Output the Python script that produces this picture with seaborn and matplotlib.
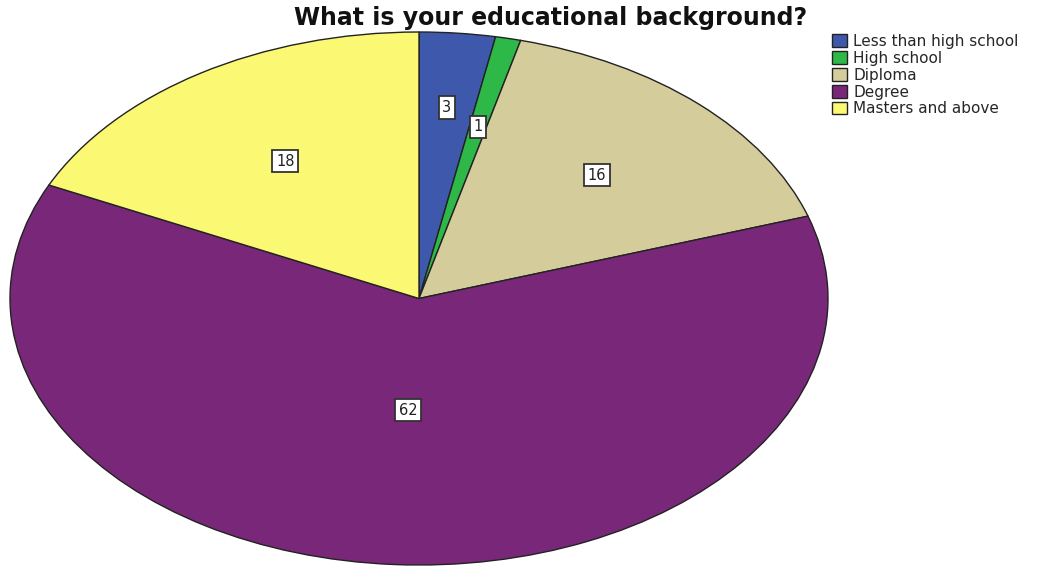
import matplotlib
matplotlib.use("Agg")
import matplotlib.pyplot as plt
import numpy as np
import seaborn as sns

categories = ["Less than high school", "High school", "Diploma", "Degree", "Masters and above"]
counts = [3, 1, 16, 62, 18]
colors = ["#3E58AC", "#2EB848", "#D4CC9A", "#792879", "#FBF873"]
title = "What is your educational background?"

sns.set_theme(style="white")
plt.rcParams["font.family"] = ["DejaVu Sans"]

W, H = 1048, 567
fig = plt.figure(figsize=(W / 100, H / 100), dpi=100)
# stretched axes so the pie becomes a wide ellipse
ax = fig.add_axes([10 / W, 2 / H, 818 / W, 533 / H])

wedges, _ = ax.pie(counts, colors=colors, startangle=90, counterclock=False,
                   wedgeprops=dict(edgecolor="#222222", linewidth=1.0))
ax.set_aspect("auto")
ax.set_xlim(-1.0, 1.0)
ax.set_ylim(-1.0, 1.0)
ax.axis("off")

# value boxes near each wedge's centre of mass
label_radius = [0.72, 0.66, 0.635, 0.42, 0.61]
for w, v, r in zip(wedges, counts, label_radius):
    mid = np.deg2rad((w.theta1 + w.theta2) / 2)
    ax.text(r * np.cos(mid), r * np.sin(mid), f"{v}", ha="center", va="center",
            fontsize=10.5, color="#222222",
            bbox=dict(boxstyle="square,pad=0.25", facecolor="white",
                      edgecolor="#333333", linewidth=1.3))

fig.text(551 / W, 1 - 18 / H, title, ha="center", va="center",
         fontsize=17, fontweight="bold", color="#111111")

fig.legend(wedges, categories, loc="upper left",
           bbox_to_anchor=(832 / W, 1 - 34 / H), frameon=False,
           fontsize=11, handlelength=1.0, handleheight=0.9,
           handletextpad=0.4, labelspacing=0.12, borderaxespad=0, borderpad=0)

fig.savefig("out.png", dpi=100)
